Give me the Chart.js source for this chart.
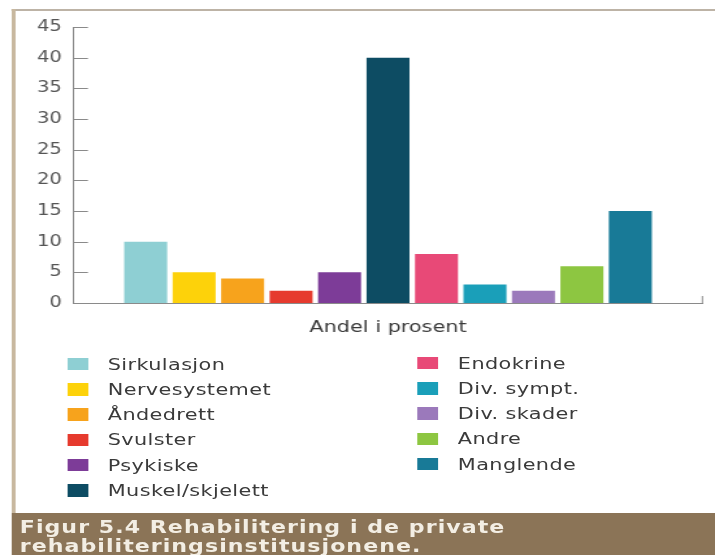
<!DOCTYPE html>
<html>
<head>
<meta charset="utf-8">
<script src="https://cdn.jsdelivr.net/npm/chart.js@4"></script>
<style>
    html, body { margin: 0; padding: 0; background: #fff; }
    #wrap {
        position: relative; width: 550px; height: 555px; overflow: hidden;
        transform: scaleX(1.3); transform-origin: 0 0;
        font-family: "DejaVu Sans", sans-serif;
    }
    #frame-top { position: absolute; left: 9.2px; top: 9px; width: 541px; height: 2px; background: #bdb3a6; }
    #frame-left { position: absolute; left: 9.2px; top: 9px; width: 2.4px; height: 504px; background: #c8b89f; }
    #chart-box { position: absolute; left: 0; top: 0; width: 550px; height: 345px; }
    .legend-col { position: absolute; }
    .legend-item { height: 25.3px; display: flex; align-items: center; font-size: 16px; color: #3a3a3a; letter-spacing: 0.3px; }
    .legend-item span.box { width: 16px; height: 12.5px; margin-right: 15.4px; display: inline-block; }
    #caption {
        position: absolute; left: 9.2px; top: 513px; width: 541px; height: 42px;
        background: #8b7457; color: #f3eee4; font-weight: bold; font-size: 17px;
        line-height: 19px; letter-spacing: 0.8px; padding: 5px 0 0 6px; box-sizing: border-box;
    }
</style>
</head>
<body>
<div id="wrap">
    <div id="chart-box"><canvas id="chart-andel" width="550" height="345"></canvas></div>
    <div id="frame-top"></div>
    <div id="frame-left"></div>
    <div class="legend-col" id="legend-1" style="left:51.5px; top:351.4px;"></div>
    <div class="legend-col" id="legend-2" style="left:320.8px; top:350.4px;"></div>
    <div id="caption">Figur 5.4 Rehabilitering i de private<br>rehabiliteringsinstitusjonene.</div>
</div>

<script>
var kategorier = ["Sirkulasjon", "Nervesystemet", "Åndedrett", "Svulster", "Psykiske", "Muskel/skjelett",
                  "Endokrine", "Div. sympt.", "Div. skader", "Andre", "Manglende"];
var andel = [10, 5, 4, 2, 5, 40, 8, 3, 2, 6, 15];
var farger = ['#8ecfd3', '#fdd20a', '#f7a31c', '#e63a2e', '#7d3c98', '#0d4c63',
              '#e84977', '#1a9fb9', '#9b79bb', '#8dc641', '#187a97'];
var yTicks = [0, 5, 10, 15, 20, 25, 30, 35, 40, 45];

// empty slot at each end of the x axis, like the original
var labels = [''].concat(kategorier, ['']);
var data = [null].concat(andel, [null]);
var colors = ['#fff'].concat(farger, ['#fff']);

var innerTicks = {
    id: 'innerTicks',
    afterDraw: function (chart) {
        var ctx = chart.ctx;
        var area = chart.chartArea;
        var y = chart.scales.y;
        ctx.save();
        ctx.strokeStyle = '#8a8a8a';
        ctx.lineWidth = 1;
        ctx.beginPath();
        y.ticks.forEach(function (t, i) {
            var py = Math.round(y.getPixelForTick(i)) + 0.5;
            ctx.moveTo(area.left, py);
            ctx.lineTo(area.left + 11.5, py);
        });
        ctx.moveTo(area.right - 0.5, area.bottom - 7);
        ctx.lineTo(area.right - 0.5, area.bottom);
        ctx.stroke();
        ctx.restore();
    }
};

var chartAndel = new Chart(document.getElementById('chart-andel').getContext('2d'), {
    type: 'bar',
    data: {
        labels: labels,
        datasets: [{
            label: 'Andel i prosent',
            data: data,
            backgroundColor: colors,
            borderWidth: 0,
            categoryPercentage: 1,
            barPercentage: 0.887
        }]
    },
    options: {
        responsive: false,
        animation: false,
        events: [],
        layout: { padding: { left: 0, right: 9.2, top: 27, bottom: 0 } },
        plugins: { legend: { display: false }, tooltip: { enabled: false } },
        scales: {
            x: {
                grid: { display: false },
                ticks: { display: false },
                border: { display: true, color: '#8a8a8a', width: 1 },
                title: {
                    display: true,
                    text: 'Andel i prosent',
                    color: '#3a3a3a',
                    font: { family: 'DejaVu Sans', size: 16 },
                    padding: { top: 0, bottom: 7.4 }
                },
                afterFit: function (scale) { scale.height = 42; }
            },
            y: {
                min: 0,
                max: 45,
                afterBuildTicks: function (scale) {
                    scale.ticks = yTicks.map(function (v) { return { value: v }; });
                },
                grid: { display: false, drawTicks: false },
                border: { display: true, color: '#8a8a8a', width: 1 },
                ticks: {
                    padding: 8.5,
                    color: '#555',
                    font: { family: 'DejaVu Sans', size: 15 }
                },
                afterFit: function (scale) { scale.width = 56.15; }
            }
        }
    },
    plugins: [innerTicks]
});

// two column legend: first six in left column, the rest in right
function legendItem(i) {
    var row = document.createElement('div');
    row.className = 'legend-item';
    var box = document.createElement('span');
    box.className = 'box';
    box.style.background = farger[i];
    row.appendChild(box);
    row.appendChild(document.createTextNode(kategorier[i]));
    return row;
}
for (var i = 0; i < kategorier.length; i++) {
    document.getElementById(i < 6 ? 'legend-1' : 'legend-2').appendChild(legendItem(i));
}
</script>
</body>
</html>
